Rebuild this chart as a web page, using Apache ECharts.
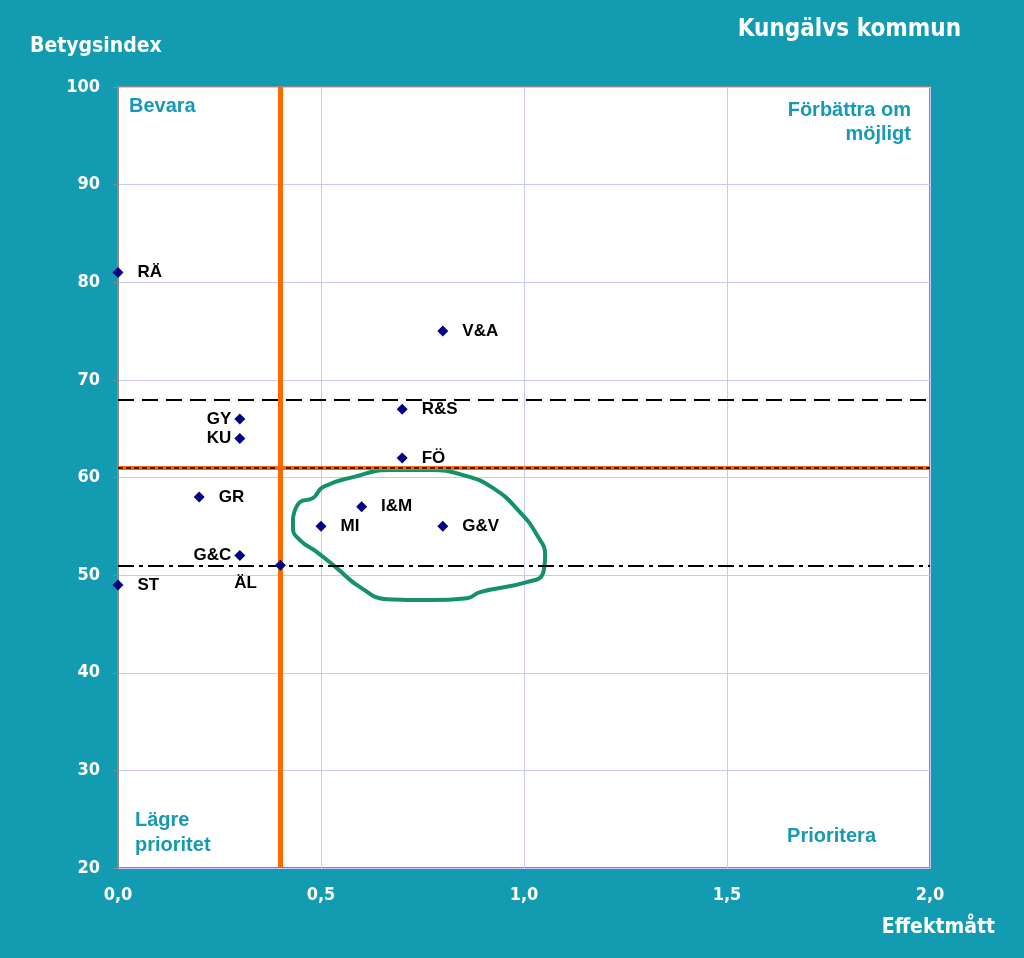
<!DOCTYPE html>
<html>
<head>
<meta charset="utf-8">
<script src="https://cdn.jsdelivr.net/npm/echarts@6/dist/echarts.min.js"></script>
<style>
html,body{margin:0;padding:0;background:#139bb1;}
#c{width:1024px;height:958px;}
</style>
</head>
<body>
<div id="c"></div>
<script>
// Data
const labels = ['RÄ','V&A','R&S','GY','KU','FÖ','GR','I&M','MI','G&V','G&C','ÄL','ST'];
const xValues = [0.0, 0.8, 0.7, 0.3, 0.3, 0.7, 0.2, 0.6, 0.5, 0.8, 0.3, 0.4, 0.0];
const yValues = [81, 75, 67, 66, 64, 62, 58, 57, 55, 55, 52, 51, 49];
const labelSide = ['right','right','right','left','left','right','right','right','right','right','left','leftBelow','right'];
const xTicks = ['0,0','0,5','1,0','1,5','2,0'];
const yTicks = [20,30,40,50,60,70,80,90,100];
const verticalOrange = 0.4;
const horizontalOrange = 61;
const dashedLine = 68;
const dashDotLine = 51;
// hand-drawn annotation outline (data coordinates)
const ringX = [0.431,0.448,0.480,0.505,0.579,0.670,0.768,0.850,0.924,0.990,1.032,1.052,1.047,1.007,0.892,0.860,0.768,0.663,0.596,0.539,0.490,0.448,0.431,0.431];
const ringY = [55.84,57.48,57.89,59.02,60.04,60.76,60.76,60.25,58.91,56.45,54.10,52.05,50.20,49.28,48.26,47.64,47.44,47.54,48.77,50.72,52.36,53.59,54.82,55.84];

const chart = echarts.init(document.getElementById('c'));
const teal = '#1799b3';
const pts = xValues.map((x,i)=>{
  const side = labelSide[i];
  let lab;
  if (side==='right') lab = {position:'right', distance:14};
  else if (side==='left') lab = {position:'left', distance:3};
  else lab = {position:'left', offset:[-8,18], distance:10};
  return {value:[x,yValues[i]], name:labels[i], label:lab};
});
const font = 'Arial, "Liberation Sans", sans-serif';
const narrow = '"DejaVu Sans Condensed", "Liberation Sans Narrow", "Liberation Sans", sans-serif';

chart.setOption({
  backgroundColor:'#139bb1',
  animation:false,
  grid:{left:118,right:94,top:87,bottom:90,show:true,backgroundColor:'#ffffff',borderColor:'#8a8a8a',borderWidth:2},
  title:{text:'Kungälvs kommun',right:58,top:13,textStyle:{color:'#ffffff',fontSize:24,fontWeight:'bold',fontFamily:narrow}},
  xAxis:{type:'value',min:0,max:2,interval:0.5,
    name:'Effektmått',nameLocation:'end',nameGap:0,
    nameTextStyle:{color:'#fff',fontSize:21,fontWeight:'bold',fontFamily:narrow,align:'right',verticalAlign:'top',padding:[49,-65,0,0]},
    axisLine:{show:false},axisTick:{show:false},
    splitLine:{show:true,lineStyle:{color:'#c8c8ff',width:1}},
    axisLabel:{color:'#fff',fontSize:18,fontWeight:'bold',fontFamily:narrow,margin:18,
      formatter:(v)=>xTicks[Math.round(v/0.5)]}},
  yAxis:{type:'value',min:20,max:100,interval:10,
    name:'Betygsindex',nameLocation:'end',nameGap:30,
    nameTextStyle:{color:'#fff',fontSize:21,fontWeight:'bold',fontFamily:narrow,align:'left',padding:[0,0,0,-88]},
    axisLine:{show:true,lineStyle:{color:'#8a8a8a',width:2}},
    axisTick:{show:true,length:5,lineStyle:{color:'#8a8a8a'}},
    splitLine:{show:true,lineStyle:{color:'#c8c8ff',width:1}},
    axisLabel:{color:'#fff',fontSize:18,fontWeight:'bold',fontFamily:narrow,margin:18,
      formatter:(v)=>yTicks.includes(v)?String(v):''}},
  graphic:[
    {type:'text',x:129,y:96,style:{text:'Bevara',fill:teal,font:'bold 20px '+font}},
    {type:'text',x:911,y:98,style:{text:'Förbättra om\nmöjligt',fill:teal,font:'bold 20px '+font,align:'right',lineHeight:24}},
    {type:'text',x:135,y:808,style:{text:'Lägre\nprioritet',fill:teal,font:'bold 20px '+font,lineHeight:25}},
    {type:'text',x:876,y:826,style:{text:'Prioritera',fill:teal,font:'bold 20px '+font,align:'right'}}
  ],
  series:[
    {type:'line',data:[],silent:true,
      markLine:{symbol:'none',silent:true,label:{show:false},data:[
        {yAxis:horizontalOrange,lineStyle:{color:'#ff6a00',width:4,type:'solid'}},
        {yAxis:horizontalOrange,lineStyle:{color:'#000',width:1.5,type:[5,3]}},
        {yAxis:dashedLine,lineStyle:{color:'#000',width:2,type:[16,8]}},
        {yAxis:dashDotLine,lineStyle:{color:'#000',width:2,type:[16,5,4,5]}},
        {xAxis:verticalOrange,lineStyle:{color:'#ff6a00',width:5,type:'solid'}}
      ]}},
    {type:'line',data:ringX.map((x,i)=>[x,ringY[i]]),smooth:0.5,symbol:'none',silent:true,
      lineStyle:{color:'#14906a',width:4},z:1},
    {type:'scatter',data:pts,symbol:'diamond',symbolSize:11,
      itemStyle:{color:'#000080',opacity:1},z:5,
      label:{show:true,formatter:(p)=>p.name,color:'#000',fontSize:17,fontWeight:'bold',fontFamily:font}}
  ]
});
</script>
</body>
</html>
